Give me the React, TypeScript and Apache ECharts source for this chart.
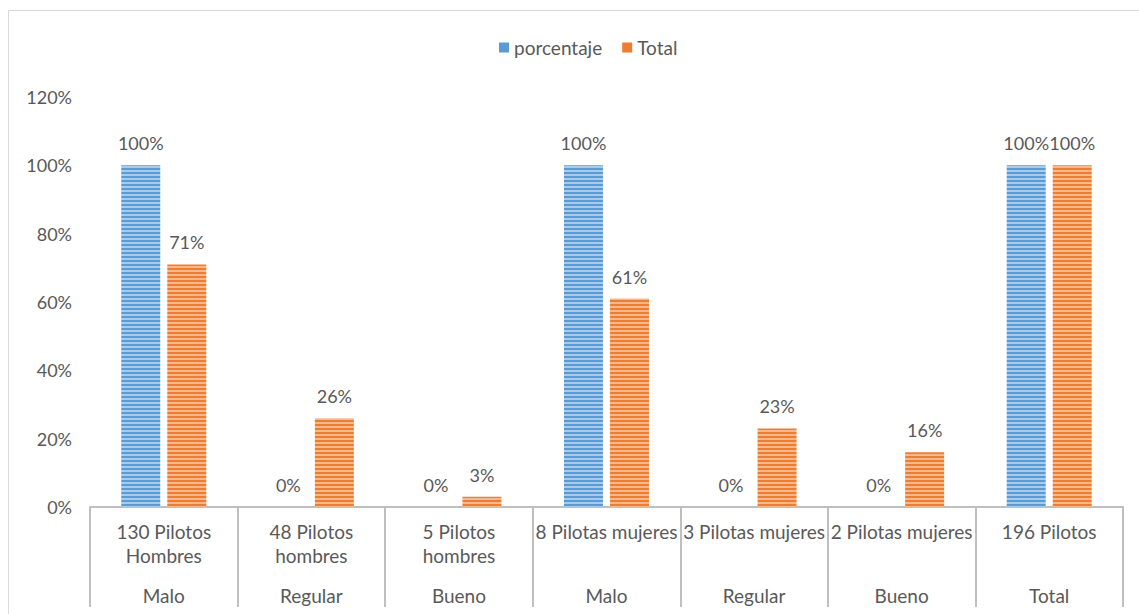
import React, { useEffect, useRef } from "react";
import * as echarts from "echarts";

const categories = [
  "130 Pilotos\nHombres",
  "48 Pilotos\nhombres",
  "5 Pilotos\nhombres",
  "8 Pilotas mujeres",
  "3 Pilotas mujeres",
  "2 Pilotas mujeres",
  "196 Pilotos",
];
const groups = ["Malo", "Regular", "Bueno", "Malo", "Regular", "Bueno", "Total"];
const porcentaje = [1, 0, 0, 1, 0, 0, 1];
const total = [0.71, 0.26, 0.03, 0.61, 0.23, 0.16, 1];
const yTicks = { min: 0, max: 1.2, interval: 0.2 };

function stripe(dark: string, light: string) {
  const c = document.createElement("canvas");
  c.width = 4;
  c.height = 4;
  const ctx = c.getContext("2d")!;
  ctx.fillStyle = light;
  ctx.fillRect(0, 0, 4, 4);
  ctx.fillStyle = dark;
  ctx.fillRect(0, 0, 4, 2);
  return { image: c, repeat: "repeat" } as any;
}

export default function App() {
  const ref = useRef<HTMLDivElement>(null);
  useEffect(() => {
    const chart = echarts.init(ref.current!, undefined, { renderer: "svg" });
    const font = "Lato, 'Open Sans', sans-serif";
    const txt = "#595959";
    const fs = 19;
    const pct = (v: number) => `${Math.round(v * 100)}%`;
    chart.setOption({
      animation: false,
      textStyle: { fontFamily: font },
      legend: {
        top: 33,
        left: 494,
        itemWidth: 10,
        itemHeight: 10,
        itemGap: 20,
        icon: "rect",
        textStyle: { fontSize: fs, color: txt, fontFamily: font },
        data: [
          { name: "porcentaje", itemStyle: { color: "#5B9BD5" } },
          { name: "Total", itemStyle: { color: "#ED7D31" } },
        ],
      },
      graphic: [
        {
          type: "rect",
          shape: { x: 8.5, y: 10.5, width: 1140, height: 700 },
          style: { fill: "none", stroke: "#d9d9d9", lineWidth: 1 },
          silent: true,
        },
      ],
      grid: { left: 90, right: 16, top: 97, bottom: 107, containLabel: false },
      xAxis: [
        {
          type: "category",
          data: categories,
          position: "bottom",
          axisLine: { lineStyle: { color: "#bfbfbf", width: 2 } },
          axisTick: { show: true, length: 100, lineStyle: { color: "#bfbfbf", width: 2 } },
          axisLabel: {
            interval: 0,
            margin: 12,
            fontSize: fs,
            color: txt,
            lineHeight: 24,
            fontFamily: font,
          },
        },
        {
          type: "category",
          data: groups,
          position: "bottom",
          axisLine: { show: false },
          axisTick: { show: false },
          axisLabel: { interval: 0, margin: 79, fontSize: fs, color: txt, fontFamily: font },
        },
      ],
      yAxis: {
        type: "value",
        min: yTicks.min,
        max: yTicks.max,
        interval: yTicks.interval,
        axisLine: { show: false },
        axisTick: { show: false },
        splitLine: { show: false },
        axisLabel: { formatter: pct, fontSize: 18, color: txt, margin: 18, fontFamily: font },
      },
      series: [
        {
          name: "porcentaje",
          type: "bar",
          data: porcentaje,
          barWidth: 39,
          barGap: "18%",
          itemStyle: { color: stripe("#5B9BD5", "#A9CBEB") },
          label: {
            show: true,
            position: "top",
            distance: 13,
            formatter: (p: any) => pct(p.value),
            fontSize: 18,
            color: txt,
            fontFamily: font,
          },
        },
        {
          name: "Total",
          type: "bar",
          data: total,
          barWidth: 39,
          barGap: "18%",
          itemStyle: { color: stripe("#ED7D31", "#F6B98E") },
          label: {
            show: true,
            position: "top",
            distance: 13,
            formatter: (p: any) => pct(p.value),
            fontSize: 18,
            color: txt,
            fontFamily: font,
          },
        },
      ],
    });
    return () => chart.dispose();
  }, []);
  return (
    <div
      ref={ref}
      style={{ position: "absolute", left: 0, top: 0, width: 1139, height: 614, background: "#fff" }}
    />
  );
}
